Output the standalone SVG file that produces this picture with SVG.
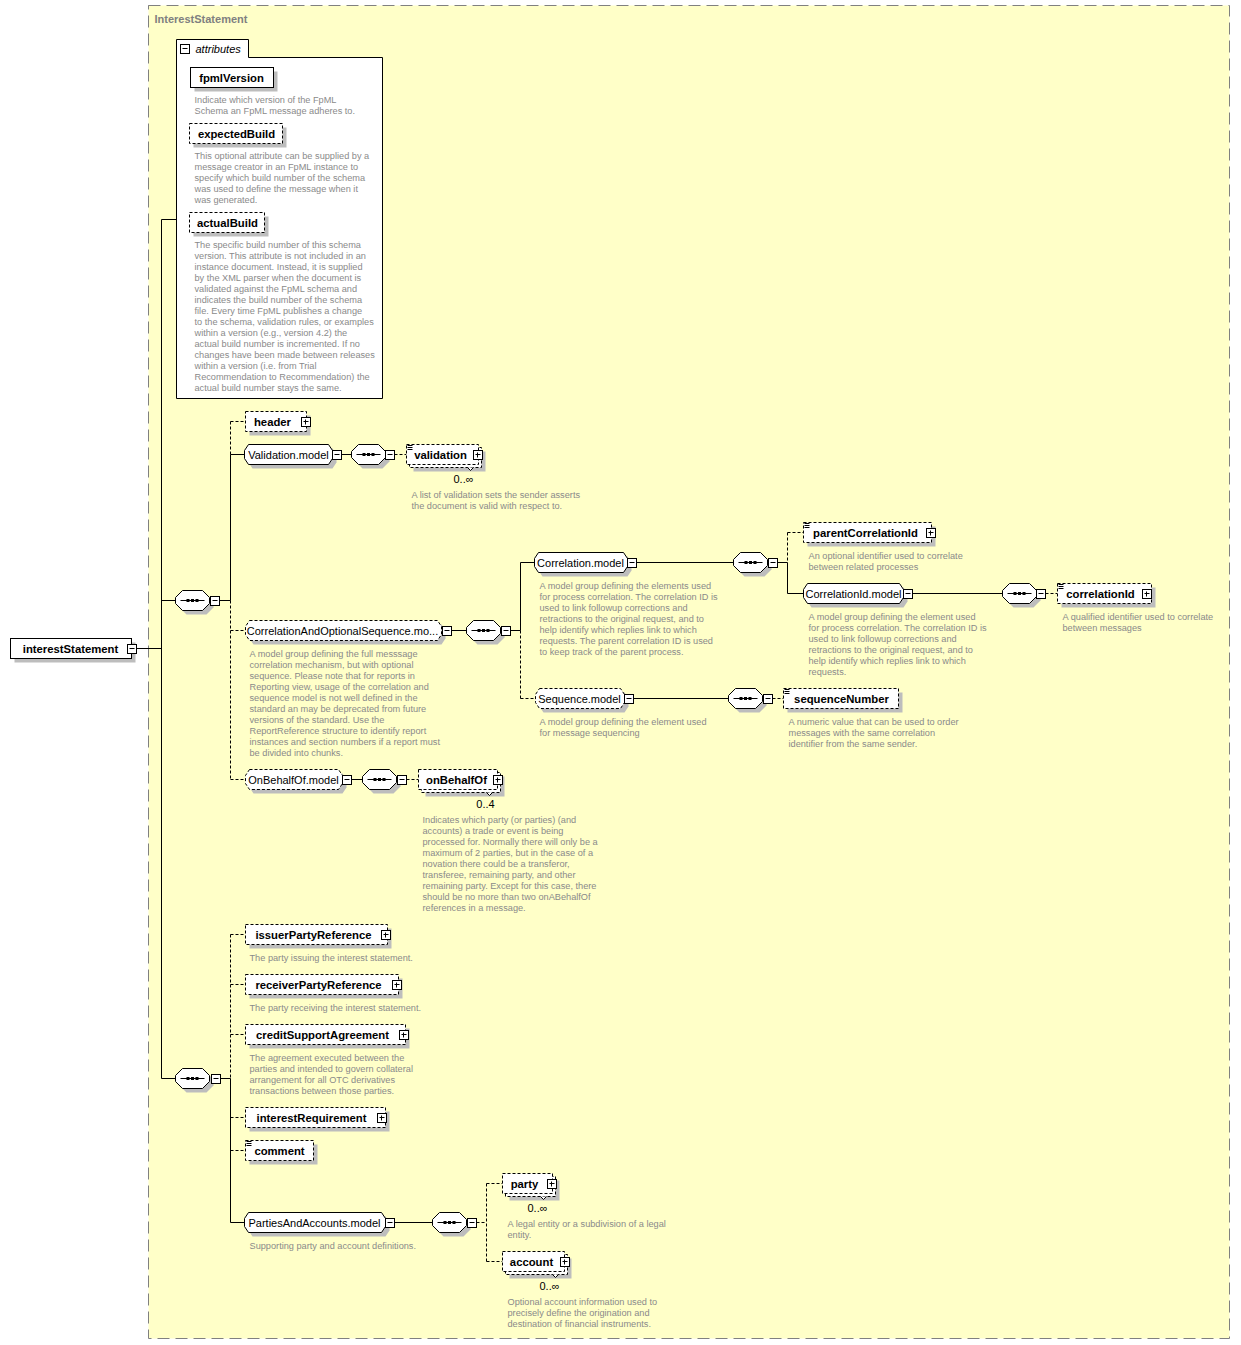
<svg xmlns="http://www.w3.org/2000/svg" xmlns:xlink="http://www.w3.org/1999/xlink" width="1241" height="1345" viewBox="0 0 1241 1345">
<style>
.bg{fill:#ffffc8;stroke:#808080;stroke-dasharray:12 6}
.c{stroke:#000;fill:none}
.cd{stroke:#000;fill:none;stroke-dasharray:3 2}
.sh{fill:#bdbdbd}
.eb{fill:#fff;stroke:#000}
.ebd{fill:#fff;stroke:#000;stroke-dasharray:3 2}
.en{font-family:"Liberation Sans",Arial,sans-serif;font-weight:bold;font-size:11.3px;fill:#000;text-anchor:middle}
.mn{font-family:"Liberation Sans",Arial,sans-serif;font-size:11px;fill:#000;text-anchor:middle}
.d{font-family:"Liberation Sans",Arial,sans-serif;font-size:9.2px;fill:#8a8a8a}
.oc{font-family:"Liberation Sans",Arial,sans-serif;font-size:11px;fill:#000;text-anchor:middle}
.ttl{font-family:"Liberation Sans",Arial,sans-serif;font-weight:bold;font-size:11px;fill:#808080}
</style>
<defs>
<g id="mi"><rect x="-4" y="-4" width="9" height="9" fill="#fff" stroke="#000"/><path d="M-2,0H3" stroke="#000"/></g>
<g id="pl"><rect x="-4" y="-4" width="9" height="9" fill="#fff" stroke="#000"/><path d="M-2,0H3M0,-2V3" stroke="#000"/></g>
<g id="sq">
<polygon class="sh" transform="translate(4,4)" points="-10,-10 10,-10 17,-3 17,3 10,10 -10,10 -17,3 -17,-3"/>
<polygon class="eb" points="-10,-10 10,-10 17,-3 17,3 10,10 -10,10 -17,3 -17,-3"/>
<path d="M-12,0H12" stroke="#000"/>
<rect x="-6" y="-1.5" width="3" height="3"/><rect x="-1.5" y="-1.5" width="3" height="3"/><rect x="3" y="-1.5" width="3" height="3"/>
</g>
<g id="eq"><path d="M1,1H6M1,3H6M1,5H6" stroke="#000"/></g>
<path id="tk" d="M-3,0L0,3L3,0" fill="#fff" stroke="#000"/>
</defs>
<g transform="translate(0.5,0.5)">
<rect class="bg" x="148" y="5" width="1081" height="1333"/>
<text class="ttl" x="154" y="22">InterestStatement</text>

<g id="connectors">
<path class="c" d="M136,648H161M161,219V1078M161,219H176M161,600H175M161,1078H175"/>
<path class="c" d="M219,600H230M230,454V600M230,454H244"/>
<path class="cd" d="M230,421V454M230,421H245M230,600V779M230,630H245M230,779H245"/>
<path class="c" d="M341,454H351"/>
<path class="cd" d="M394,454H406"/>
<path class="c" d="M451,630H466M510,630H520M520,562V630M520,562H534"/>
<path class="cd" d="M520,630V698M520,698H535"/>
<path class="c" d="M636,562H733M777,562H787M787,562V593M787,593H803"/>
<path class="cd" d="M787,532V562M787,532H803"/>
<path class="c" d="M912,593H1002"/>
<path class="cd" d="M1045,593H1057"/>
<path class="c" d="M633,698H728"/>
<path class="cd" d="M772,698H783"/>
<path class="c" d="M351,779H362"/>
<path class="cd" d="M406,779H418"/>
<path class="c" d="M220,1078H230M230,1078V1222M230,1222H244"/>
<path class="cd" d="M230,934V1078M230,934H245M230,984H245M230,1034H245M230,1117H245M230,1150H245"/>
<path class="c" d="M394,1222H432"/>
<path class="cd" d="M476,1222H486M486,1183V1261M486,1183H502M486,1261H502"/>
</g>

<g id="interestStatement">
<rect class="sh" x="14" y="642" width="121" height="20"/>
<rect class="eb" x="10" y="638" width="121" height="20"/>
<text class="en" x="70" y="652">interestStatement</text>
<use xlink:href="#mi" x="131" y="648"/>
</g>

<g id="attributes">
<path class="eb" d="M176,398V39H248V57H382V398Z"/>
<use xlink:href="#mi" x="184" y="48"/>
<text x="195" y="52" style="font-family:'Liberation Sans',Arial,sans-serif;font-size:11px;font-style:italic">attributes</text>
<rect class="sh" x="194" y="71" width="83" height="20"/>
<rect class="eb" x="190" y="67" width="83" height="20"/>
<text class="en" x="231" y="81">fpmlVersion</text>
<text class="d" x="194" y="102">Indicate which version of the FpML</text>
<text class="d" x="194" y="113">Schema an FpML message adheres to.</text>
<rect class="sh" x="193" y="127" width="93" height="20"/>
<rect class="ebd" x="189" y="123" width="93" height="20"/>
<text class="en" x="236" y="137">expectedBuild</text>
<text class="d" x="194" y="158">This optional attribute can be supplied by a</text>
<text class="d" x="194" y="169">message creator in an FpML instance to</text>
<text class="d" x="194" y="180">specify which build number of the schema</text>
<text class="d" x="194" y="191">was used to define the message when it</text>
<text class="d" x="194" y="202">was generated.</text>
<rect class="sh" x="193" y="216" width="75" height="20"/>
<rect class="ebd" x="189" y="212" width="75" height="20"/>
<text class="en" x="227" y="226">actualBuild</text>
<text class="d" x="194" y="247">The specific build number of this schema</text>
<text class="d" x="194" y="258">version. This attribute is not included in an</text>
<text class="d" x="194" y="269">instance document. Instead, it is supplied</text>
<text class="d" x="194" y="280">by the XML parser when the document is</text>
<text class="d" x="194" y="291">validated against the FpML schema and</text>
<text class="d" x="194" y="302">indicates the build number of the schema</text>
<text class="d" x="194" y="313">file. Every time FpML publishes a change</text>
<text class="d" x="194" y="324">to the schema, validation rules, or examples</text>
<text class="d" x="194" y="335">within a version (e.g., version 4.2) the</text>
<text class="d" x="194" y="346">actual build number is incremented. If no</text>
<text class="d" x="194" y="357">changes have been made between releases</text>
<text class="d" x="194" y="368">within a version (i.e. from Trial</text>
<text class="d" x="194" y="379">Recommendation to Recommendation) the</text>
<text class="d" x="194" y="390">actual build number stays the same.</text>
</g>

<g id="seq1">
<use xlink:href="#sq" x="192" y="600"/>
<use xlink:href="#mi" x="214" y="600"/>
</g>

<g id="header">
<rect class="sh" x="249" y="415" width="61" height="20"/>
<rect class="ebd" x="245" y="411" width="61" height="20"/>
<text class="en" x="272" y="425">header</text>
<use xlink:href="#pl" x="305" y="421"/>
</g>

<g id="validationModel">
<polygon class="sh" transform="translate(4,4)" points="248,444 328,444 332,450 332,458 328,464 248,464 244,458 244,450"/>
<polygon class="eb" points="248,444 328,444 332,450 332,458 328,464 248,464 244,458 244,450"/>
<text class="mn" x="288" y="458">Validation.model</text>
<use xlink:href="#mi" x="336" y="454"/>
<use xlink:href="#sq" x="368" y="454"/>
<use xlink:href="#mi" x="389" y="454"/>
</g>

<g id="validation">
<rect class="sh" x="413" y="451" width="72" height="20"/>
<rect class="ebd" x="409" y="447" width="72" height="20"/>
<rect class="ebd" x="406" y="444" width="72" height="20"/>
<use xlink:href="#eq" x="406" y="444"/>
<text class="en" x="440" y="458">validation</text>
<use xlink:href="#pl" x="477" y="454"/>
<use xlink:href="#tk" x="470" y="467"/>
<text class="oc" x="463" y="482">0..∞</text>
<text class="d" x="411" y="497">A list of validation sets the sender asserts</text>
<text class="d" x="411" y="508">the document is valid with respect to.</text>
</g>

<g id="correlationAndOptionalSequenceModel">
<polygon class="sh" transform="translate(4,4)" points="249,620 437,620 441,626 441,634 437,640 249,640 245,634 245,626"/>
<polygon class="ebd" points="249,620 437,620 441,626 441,634 437,640 249,640 245,634 245,626"/>
<text class="mn" x="342" y="634">CorrelationAndOptionalSequence.mo...</text>
<use xlink:href="#mi" x="446" y="630"/>
<use xlink:href="#sq" x="483" y="630"/>
<use xlink:href="#mi" x="505" y="630"/>
<text class="d" x="249" y="656">A model group defining the full messsage</text>
<text class="d" x="249" y="667">correlation mechanism, but with optional</text>
<text class="d" x="249" y="678">sequence. Please note that for reports in</text>
<text class="d" x="249" y="689">Reporting view, usage of the correlation and</text>
<text class="d" x="249" y="700">sequence model is not well defined in the</text>
<text class="d" x="249" y="711">standard an may be deprecated from future</text>
<text class="d" x="249" y="722">versions of the standard. Use the</text>
<text class="d" x="249" y="733">ReportReference structure to identify report</text>
<text class="d" x="249" y="744">instances and section numbers if a report must</text>
<text class="d" x="249" y="755">be divided into chunks.</text>
</g>

<g id="correlationModel">
<polygon class="sh" transform="translate(4,4)" points="538,552 623,552 627,558 627,566 623,572 538,572 534,566 534,558"/>
<polygon class="eb" points="538,552 623,552 627,558 627,566 623,572 538,572 534,566 534,558"/>
<text class="mn" x="580" y="566">Correlation.model</text>
<use xlink:href="#mi" x="631" y="562"/>
<use xlink:href="#sq" x="750" y="562"/>
<use xlink:href="#mi" x="772" y="562"/>
<text class="d" x="539" y="588">A model group defining the elements used</text>
<text class="d" x="539" y="599">for process correlation. The correlation ID is</text>
<text class="d" x="539" y="610">used to link followup corrections and</text>
<text class="d" x="539" y="621">retractions to the original request, and to</text>
<text class="d" x="539" y="632">help identify which replies link to which</text>
<text class="d" x="539" y="643">requests. The parent correlation ID is used</text>
<text class="d" x="539" y="654">to keep track of the parent process.</text>
</g>

<g id="parentCorrelationId">
<rect class="sh" x="807" y="526" width="128" height="20"/>
<rect class="ebd" x="803" y="522" width="128" height="20"/>
<use xlink:href="#eq" x="803" y="522"/>
<text class="en" x="865" y="536">parentCorrelationId</text>
<use xlink:href="#pl" x="930" y="532"/>
<text class="d" x="808" y="558">An optional identifier used to correlate</text>
<text class="d" x="808" y="569">between related processes</text>
</g>

<g id="correlationIdModel">
<polygon class="sh" transform="translate(4,4)" points="807,583 899,583 903,589 903,597 899,603 807,603 803,597 803,589"/>
<polygon class="eb" points="807,583 899,583 903,589 903,597 899,603 807,603 803,597 803,589"/>
<text class="mn" x="853" y="597">CorrelationId.model</text>
<use xlink:href="#mi" x="907" y="593"/>
<use xlink:href="#sq" x="1019" y="593"/>
<use xlink:href="#mi" x="1040" y="593"/>
<text class="d" x="808" y="619">A model group defining the element used</text>
<text class="d" x="808" y="630">for process correlation. The correlation ID is</text>
<text class="d" x="808" y="641">used to link followup corrections and</text>
<text class="d" x="808" y="652">retractions to the original request, and to</text>
<text class="d" x="808" y="663">help identify which replies link to which</text>
<text class="d" x="808" y="674">requests.</text>
</g>

<g id="correlationId">
<rect class="sh" x="1061" y="587" width="94" height="20"/>
<rect class="ebd" x="1057" y="583" width="94" height="20"/>
<use xlink:href="#eq" x="1057" y="583"/>
<text class="en" x="1100" y="597">correlationId</text>
<use xlink:href="#pl" x="1146" y="593"/>
<text class="d" x="1062" y="619">A qualified identifier used to correlate</text>
<text class="d" x="1062" y="630">between messages</text>
</g>

<g id="sequenceModel">
<polygon class="sh" transform="translate(4,4)" points="539,688 620,688 624,694 624,702 620,708 539,708 535,702 535,694"/>
<polygon class="ebd" points="539,688 620,688 624,694 624,702 620,708 539,708 535,702 535,694"/>
<text class="mn" x="579" y="702">Sequence.model</text>
<use xlink:href="#mi" x="628" y="698"/>
<use xlink:href="#sq" x="745" y="698"/>
<use xlink:href="#mi" x="767" y="698"/>
<text class="d" x="539" y="724">A model group defining the element used</text>
<text class="d" x="539" y="735">for message sequencing</text>
</g>

<g id="sequenceNumber">
<rect class="sh" x="787" y="692" width="115" height="20"/>
<rect class="ebd" x="783" y="688" width="115" height="20"/>
<use xlink:href="#eq" x="783" y="688"/>
<text class="en" x="841" y="702">sequenceNumber</text>
<text class="d" x="788" y="724">A numeric value that can be used to order</text>
<text class="d" x="788" y="735">messages with the same correlation</text>
<text class="d" x="788" y="746">identifier from the same sender.</text>
</g>

<g id="onBehalfOfModel">
<polygon class="sh" transform="translate(4,4)" points="249,769 338,769 342,775 342,783 338,789 249,789 245,783 245,775"/>
<polygon class="ebd" points="249,769 338,769 342,775 342,783 338,789 249,789 245,783 245,775"/>
<text class="mn" x="293" y="783">OnBehalfOf.model</text>
<use xlink:href="#mi" x="346" y="779"/>
<use xlink:href="#sq" x="379" y="779"/>
<use xlink:href="#mi" x="401" y="779"/>
</g>

<g id="onBehalfOf">
<rect class="sh" x="425" y="776" width="79" height="20"/>
<rect class="ebd" x="421" y="772" width="79" height="20"/>
<rect class="ebd" x="418" y="769" width="79" height="20"/>
<text class="en" x="456" y="783">onBehalfOf</text>
<use xlink:href="#pl" x="497" y="779"/>
<use xlink:href="#tk" x="489" y="792"/>
<text class="oc" x="485" y="807">0..4</text>
<text class="d" x="422" y="822">Indicates which party (or parties) (and</text>
<text class="d" x="422" y="833">accounts) a trade or event is being</text>
<text class="d" x="422" y="844">processed for. Normally there will only be a</text>
<text class="d" x="422" y="855">maximum of 2 parties, but in the case of a</text>
<text class="d" x="422" y="866">novation there could be a transferor,</text>
<text class="d" x="422" y="877">transferee, remaining party, and other</text>
<text class="d" x="422" y="888">remaining party. Except for this case, there</text>
<text class="d" x="422" y="899">should be no more than two onABehalfOf</text>
<text class="d" x="422" y="910">references in a message.</text>
</g>

<g id="seq2">
<use xlink:href="#sq" x="192" y="1078"/>
<use xlink:href="#mi" x="215" y="1078"/>
</g>

<g id="issuerPartyReference">
<rect class="sh" x="249" y="928" width="142" height="20"/>
<rect class="ebd" x="245" y="924" width="142" height="20"/>
<text class="en" x="313" y="938">issuerPartyReference</text>
<use xlink:href="#pl" x="385" y="934"/>
<text class="d" x="249" y="960">The party issuing the interest statement.</text>
</g>

<g id="receiverPartyReference">
<rect class="sh" x="249" y="978" width="153" height="20"/>
<rect class="ebd" x="245" y="974" width="153" height="20"/>
<text class="en" x="318" y="988">receiverPartyReference</text>
<use xlink:href="#pl" x="396" y="984"/>
<text class="d" x="249" y="1010">The party receiving the interest statement.</text>
</g>

<g id="creditSupportAgreement">
<rect class="sh" x="249" y="1028" width="160" height="20"/>
<rect class="ebd" x="245" y="1024" width="160" height="20"/>
<text class="en" x="322" y="1038">creditSupportAgreement</text>
<use xlink:href="#pl" x="403" y="1034"/>
<text class="d" x="249" y="1060">The agreement executed between the</text>
<text class="d" x="249" y="1071">parties and intended to govern collateral</text>
<text class="d" x="249" y="1082">arrangement for all OTC derivatives</text>
<text class="d" x="249" y="1093">transactions between those parties.</text>
</g>

<g id="interestRequirement">
<rect class="sh" x="249" y="1111" width="140" height="20"/>
<rect class="ebd" x="245" y="1107" width="140" height="20"/>
<text class="en" x="311" y="1121">interestRequirement</text>
<use xlink:href="#pl" x="381" y="1117"/>
</g>

<g id="comment">
<rect class="sh" x="249" y="1144" width="68" height="20"/>
<rect class="ebd" x="245" y="1140" width="68" height="20"/>
<use xlink:href="#eq" x="245" y="1140"/>
<text class="en" x="279" y="1154">comment</text>
</g>

<g id="partiesAndAccountsModel">
<polygon class="sh" transform="translate(4,4)" points="248,1212 381,1212 385,1218 385,1226 381,1232 248,1232 244,1226 244,1218"/>
<polygon class="eb" points="248,1212 381,1212 385,1218 385,1226 381,1232 248,1232 244,1226 244,1218"/>
<text class="mn" x="314" y="1226">PartiesAndAccounts.model</text>
<use xlink:href="#mi" x="389" y="1222"/>
<use xlink:href="#sq" x="449" y="1222"/>
<use xlink:href="#mi" x="471" y="1222"/>
<text class="d" x="249" y="1248">Supporting party and account definitions.</text>
</g>

<g id="party">
<rect class="sh" x="509" y="1180" width="50" height="20"/>
<rect class="ebd" x="505" y="1176" width="50" height="20"/>
<rect class="ebd" x="502" y="1173" width="50" height="20"/>
<text class="en" x="524" y="1187">party</text>
<use xlink:href="#pl" x="551" y="1183"/>
<use xlink:href="#tk" x="543" y="1196"/>
<text class="oc" x="537" y="1211">0..∞</text>
<text class="d" x="507" y="1226">A legal entity or a subdivision of a legal</text>
<text class="d" x="507" y="1237">entity.</text>
</g>

<g id="account">
<rect class="sh" x="509" y="1258" width="62" height="20"/>
<rect class="ebd" x="505" y="1254" width="62" height="20"/>
<rect class="ebd" x="502" y="1251" width="62" height="20"/>
<text class="en" x="531" y="1265">account</text>
<use xlink:href="#pl" x="564" y="1261"/>
<use xlink:href="#tk" x="555" y="1274"/>
<text class="oc" x="549" y="1289">0..∞</text>
<text class="d" x="507" y="1304">Optional account information used to</text>
<text class="d" x="507" y="1315">precisely define the origination and</text>
<text class="d" x="507" y="1326">destination of financial instruments.</text>
</g>
</g>
</svg>
